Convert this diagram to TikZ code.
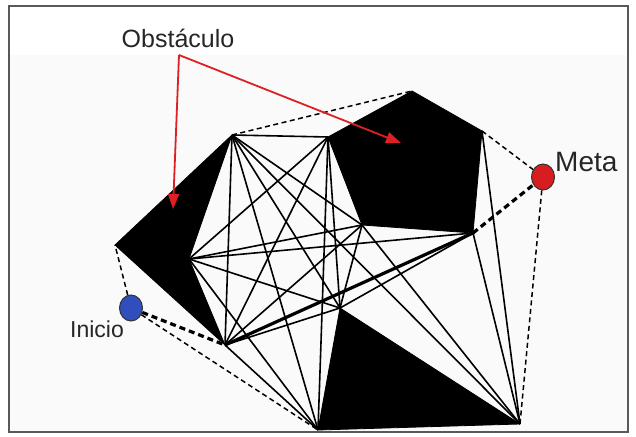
\documentclass[tikz,border=0pt]{standalone}
\usepackage{fontspec}
\setmainfont{Liberation Sans}
\usetikzlibrary{arrows.meta,shapes.geometric}
\definecolor{arrowred}{RGB}{222,32,36}
\definecolor{startblue}{RGB}{48,78,188}
\definecolor{goalred}{RGB}{214,30,32}
\tikzset{
  frame/.style={draw=black!65, line width=1.6pt},
  obst/.style={fill=black, draw=black, line width=0.8pt, line join=round},
  vis/.style={line width=1.6pt, black},
  hull/.style={line width=1.5pt, dash pattern=on 5pt off 3.5pt},
  route/.style={line width=3.2pt},
  routedash/.style={route, dash pattern=on 6pt off 4pt},
  redarr/.style={-{Triangle[length=15pt,width=11pt]}, draw=arrowred, line width=1.8pt},
  endpt/.style={ellipse, draw=black!80, line width=1pt, minimum width=23pt, minimum height=26pt, inner sep=0pt},
  lbl/.style={text=black!85, inner sep=1pt}}

\begin{document}
\begin{tikzpicture}[x=1pt,y=-1pt]
  \useasboundingbox (0,0) rectangle (636,436);
  % frame
  \fill[black!2] (9,55) rectangle (628,432);
  \draw[frame] (9,6) rectangle (628,432);
  % obstacle corners
  \coordinate (a) at (115,245); \coordinate (b) at (232,135);
  \coordinate (c) at (189,259); \coordinate (d) at (225,345);
  \coordinate (e) at (412,91);  \coordinate (f) at (482,131);
  \coordinate (g) at (473,233); \coordinate (h) at (362,225);
  \coordinate (i) at (328,137);
  \coordinate (j) at (340,308); \coordinate (k) at (318,430);
  \coordinate (l) at (520,424);
  % obstacles
  \filldraw[obst] (a) -- (b) -- (c) -- (d) -- cycle;
  \filldraw[obst] (e) -- (f) -- (g) -- (h) -- (i) -- cycle;
  \filldraw[obst] (j) -- (k) -- (l) -- cycle;
  % visibility graph
  \foreach \u/\v in {b/i,b/d,b/h,b/j,b/k,b/l,c/i,c/h,c/g,c/j,c/k,d/i,d/h,d/j,d/k,h/j,h/l,g/j,g/l,f/l,i/j,i/k}
    \draw[vis] (\u) -- (\v);
  \draw[hull] (b) -- (e);
  % start and goal
  \node[endpt, fill=startblue] (start) at (131,308) {};
  \node[endpt, fill=goalred] (goal) at (543,177) {};
  \draw[hull] (start) -- (a); \draw[hull] (start) -- (k);
  \draw[hull] (f) -- (goal); \draw[hull] (goal) -- (l);
  \draw[routedash] (start) -- (d); \draw[route] (d) -- (g); \draw[routedash] (g) -- (goal);
  % labels
  \node[lbl, anchor=west, font=\fontsize{28}{32}\selectfont] (meta) at (554,162) {Meta};
  \node[lbl, font=\fontsize{23}{27}\selectfont] (inicio) at (97,329) {Inicio};
  \node[lbl, font=\fontsize{25}{29}\selectfont] (obs) at (178,38) {Obstáculo};
  \coordinate (split) at (179,55);
  \coordinate (tipA) at (173,209); \coordinate (tipB) at (401,143);
  \draw[redarr] (split) -- (tipA); \draw[redarr] (split) -- (tipB);
\end{tikzpicture}
\end{document}
